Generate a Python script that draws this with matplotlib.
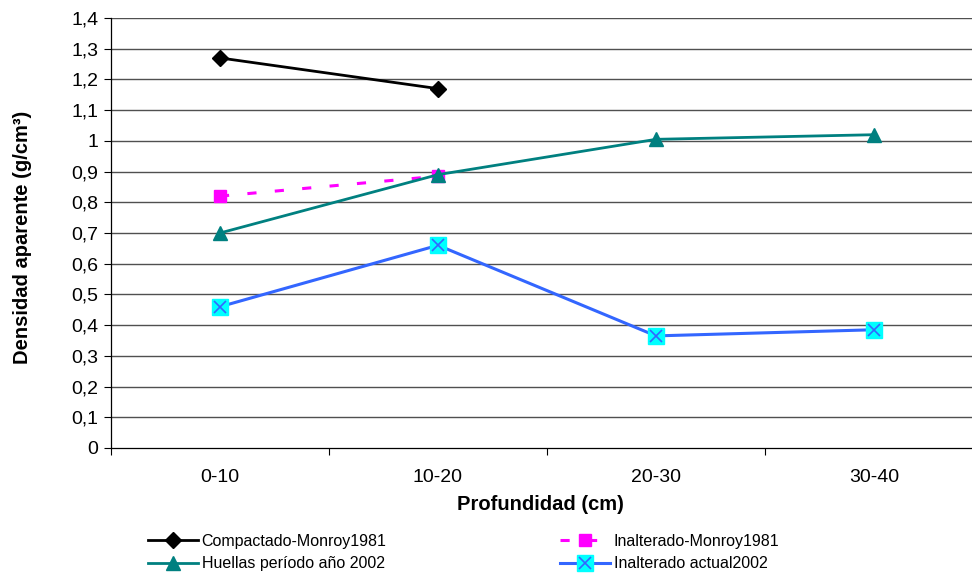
import matplotlib.pyplot as plt
from matplotlib.legend_handler import HandlerTuple
from matplotlib.ticker import FuncFormatter, FixedLocator

# Densidad aparente por profundidad
profundidades = ["0-10", "10-20", "20-30", "30-40"]

compactado_monroy = [1.27, 1.17]
inalterado_monroy = [0.82, 0.885]
huellas_2002 = [0.70, 0.89, 1.005, 1.02]
inalterado_actual = [0.46, 0.66, 0.365, 0.385]

y_ticks = [i / 10 for i in range(15)]

plt.rcParams["font.family"] = ["Liberation Sans", "DejaVu Sans"]

fig = plt.figure(figsize=(9.72, 5.74), dpi=100)
fig.patch.set_facecolor("white")
# the plot area runs past the right edge of the figure
ax = fig.add_axes([111 / 972, 126 / 574, 872 / 972, 430 / 574])

x_all = list(range(len(profundidades)))

l1, = ax.plot(x_all[:len(compactado_monroy)], compactado_monroy, color="black",
              lw=2.0, marker="D", ms=8, mfc="black", mec="black", zorder=3)
l2, = ax.plot(x_all[:len(inalterado_monroy)], inalterado_monroy, color="#FF00FF",
              lw=2.2, dashes=(3, 6), marker="s", ms=8, mfc="#FF00FF", mec="#FF00FF",
              zorder=3)
l3, = ax.plot(x_all, huellas_2002, color="#008080", lw=2.0, marker="^", ms=10,
              mfc="#008080", mec="#008080", zorder=4)
l4, = ax.plot(x_all, inalterado_actual, color="#3366FF", lw=2.2, marker="s", ms=12,
              mfc="#00FFFF", mec="#00FFFF", zorder=5)
l4x, = ax.plot(x_all, inalterado_actual, ls="none", marker="x", ms=9, mew=1.2,
               color="#3366FF", zorder=6)

ax.set_xlim(-0.5, 3.5)
ax.set_ylim(0, 1.4)
ax.set_yticks(y_ticks)
ax.yaxis.set_major_formatter(FuncFormatter(lambda v, _: f"{v:g}".replace(".", ",")))
ax.set_xticks(x_all)
ax.set_xticklabels(profundidades)
ax.xaxis.set_minor_locator(FixedLocator([-0.5, 0.5, 1.5, 2.5]))

ax.tick_params(axis="y", direction="out", length=5, width=0.8, labelsize=14, pad=4)
ax.tick_params(axis="x", which="major", length=0, labelsize=14, pad=15)
ax.tick_params(axis="x", which="minor", direction="out", length=5, width=0.8)

for v in y_ticks[1:]:
    ax.axhline(v, color="#505050", lw=1.0, zorder=1)

for side in ("top", "right"):
    ax.spines[side].set_visible(False)
for side in ("left", "bottom"):
    ax.spines[side].set_color("black")
    ax.spines[side].set_linewidth(0.9)

ax.set_ylabel("Densidad aparente (g/cm³)", fontsize=14.5, fontweight="bold")
ax.yaxis.set_label_coords(-0.0905, 0.49)
ax.set_xlabel("Profundidad (cm)", fontsize=14.5, fontweight="bold")
ax.xaxis.set_label_coords(0.492, -0.11)

legend_kw = dict(loc="upper left", frameon=False, fontsize=11.5, borderpad=0,
                 borderaxespad=0, handlelength=3.1, handletextpad=0.25,
                 labelspacing=0.45, numpoints=1,
                 handler_map={tuple: HandlerTuple(ndivide=1)})
fig.legend([l1, l3], ["Compactado-Monroy1981", "Huellas período año 2002"],
           bbox_to_anchor=(148 / 972, 40 / 574), **legend_kw)
fig.legend([l2, (l4, l4x)], ["Inalterado-Monroy1981", "Inalterado actual2002"],
           bbox_to_anchor=(560 / 972, 40 / 574), **legend_kw)

fig.savefig("out.png", dpi=100)
